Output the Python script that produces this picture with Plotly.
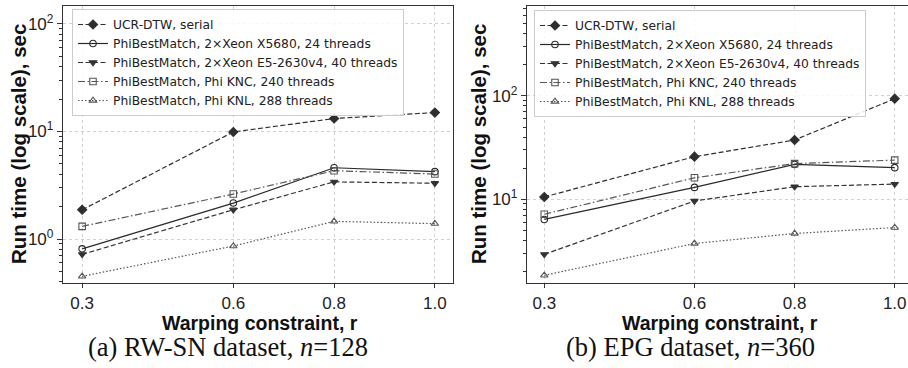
import plotly.graph_objects as go

# ---- data ----
r_values = [0.3, 0.6, 0.8, 1.0]
r_labels = ["0.3", "0.6", "0.8", "1.0"]

series_names = [
    "UCR-DTW, serial",
    "PhiBestMatch, 2×Xeon X5680, 24 threads",
    "PhiBestMatch, 2×Xeon E5-2630v4, 40 threads",
    "PhiBestMatch, Phi KNC, 240 threads",
    "PhiBestMatch, Phi KNL, 288 threads",
]

# (a) RW-SN dataset, n=128
rwsn_ucr = [1.87, 9.9, 13.2, 15.0]
rwsn_x5680 = [0.81, 2.16, 4.6, 4.23]
rwsn_e5 = [0.72, 1.87, 3.4, 3.3]
rwsn_knc = [1.31, 2.62, 4.32, 4.02]
rwsn_knl = [0.45, 0.86, 1.46, 1.39]

# (b) EPG dataset, n=360
epg_ucr = [10.5, 25.8, 37.4, 94.0]
epg_x5680 = [6.36, 13.0, 21.7, 20.2]
epg_e5 = [2.92, 9.6, 13.2, 14.0]
epg_knc = [7.14, 16.1, 22.1, 23.9]
epg_knl = [1.83, 3.72, 4.65, 5.31]

y_ticks_a = [1, 10, 100]
y_ticktext_a = ["10<sup>0</sup>", "10<sup>1</sup>", "10<sup>2</sup>"]
y_ticks_b = [10, 100]
y_ticktext_b = ["10<sup>1</sup>", "10<sup>2</sup>"]

captions = ["(a) RW-SN dataset, <i>n</i>=128", "(b) EPG dataset, <i>n</i>=360"]
x_title = "<b>Warping constraint, r</b>"
y_title = "<b>Run time (log scale), sec</b>"

# ---- styles ----
styles = [
    dict(color="#2e2e2e", dash="5px,2.5px", symbol="diamond", size=7),
    dict(color="#2a2a2a", dash="solid", symbol="circle-open", size=6.5),
    dict(color="#333333", dash="5px,2.5px", symbol="triangle-down", size=6.5),
    dict(color="#555555", dash="7px,2.5px,1.5px,2.5px", symbol="square-open", size=6.5),
    dict(color="#555555", dash="1.5px,2px", symbol="triangle-up-open", size=6.5),
]

fig = go.Figure()

panels = [
    ([rwsn_ucr, rwsn_x5680, rwsn_e5, rwsn_knc, rwsn_knl], "x", "y", "legend"),
    ([epg_ucr, epg_x5680, epg_e5, epg_knc, epg_knl], "x2", "y2", "legend2"),
]
for data, xa, ya, lg in panels:
    for name, vals, st in zip(series_names, data, styles):
        fig.add_trace(go.Scatter(
            x=r_values, y=vals, name=name, mode="lines+markers",
            xaxis=xa, yaxis=ya, legend=lg,
            line=dict(color=st["color"], dash=st["dash"], width=1.2),
            marker=dict(symbol=st["symbol"], size=st["size"], color=st["color"],
                        line=dict(color=st["color"], width=1.1)),
        ))

W, H = 908, 368
mt, mb = 6, 85
ph = H - mt - mb

xtick_font = dict(family="Liberation Sans, Arial, sans-serif", size=17, color="#222")
ytick_font = dict(family="Liberation Sans, Arial, sans-serif", size=17, color="#222")

def minor_vals(lo, hi):
    out = []
    for k in range(lo, hi):
        for d in range(2, 10):
            out.append(d * 10 ** k)
    return out

common_x = dict(
    tickmode="array", tickvals=r_values, ticktext=r_labels,
    showgrid=True, gridcolor="#d0d0d0", griddash="dot", gridwidth=1,
    showline=True, linecolor="#333", linewidth=1.3, mirror=True,
    ticks="outside", ticklen=4, tickcolor="#333", tickfont=xtick_font,
    zeroline=False,
)
common_y = dict(
    type="log", tickmode="array",
    showgrid=True, gridcolor="#d0d0d0", griddash="dot", gridwidth=1,
    showline=True, linecolor="#333", linewidth=1.3,
    ticks="outside", ticklen=5, tickcolor="#333", tickfont=ytick_font,
    zeroline=False,
)

x1d = [63 / W, 453 / W]
x2d = [527 / W, 1.0]

legend_font = dict(family="DejaVu Sans, Liberation Sans, sans-serif", size=12.3, color="#222")

fig.update_layout(
    width=W, height=H,
    margin=dict(l=0, r=0, t=mt, b=mb),
    plot_bgcolor="white", paper_bgcolor="white",
    xaxis=dict(domain=x1d, range=[0.262, 1.036], anchor="y", **common_x),
    yaxis=dict(domain=[0, 1], range=[-0.409, 2.167], anchor="x", mirror=True,
               tickvals=y_ticks_a, ticktext=y_ticktext_a,
               minor=dict(tickvals=minor_vals(-1, 3), ticks="outside", ticklen=3,
                          tickcolor="#333", showgrid=False),
               **common_y),
    xaxis2=dict(domain=x2d, range=[0.2655, 1.0265], anchor="y2", **common_x),
    yaxis2=dict(domain=[0, 1], range=[0.188, 2.871], anchor="x2", mirror=False,
                tickvals=y_ticks_b, ticktext=y_ticktext_b,
                minor=dict(tickvals=minor_vals(0, 3), ticks="outside", ticklen=3,
                           tickcolor="#333", showgrid=False),
                **common_y),
    legend=dict(x=72 / W, y=1 - (9 - mt) / ph, xanchor="left", yanchor="top",
                bgcolor="rgba(255,255,255,0.85)", bordercolor="#cccccc", borderwidth=1,
                font=legend_font, tracegroupgap=0, itemwidth=30),
    legend2=dict(x=534 / W, y=1 - (10 - mt) / ph, xanchor="left", yanchor="top",
                 bgcolor="rgba(255,255,255,0.85)", bordercolor="#cccccc", borderwidth=1,
                 font=legend_font, tracegroupgap=0, itemwidth=30),
    showlegend=True,
)

def py(pix):
    return 1 - (pix - mt) / ph

annos = []
title_font = dict(family="Liberation Sans, Arial, sans-serif", size=19.5, color="#111")
ytitle_font = dict(family="Liberation Sans, Arial, sans-serif", size=20.5, color="#111")
cap_font = dict(family="Liberation Serif, Times New Roman, serif", size=26.5, color="#111")
for i, (cx_x, cx_cap, ycx) in enumerate([(260, 228, 18), (720, 690, 478)]):
    annos.append(dict(text=x_title, x=cx_x / W, y=py(323), xref="paper", yref="paper",
                      showarrow=False, xanchor="center", yanchor="middle", font=title_font))
    annos.append(dict(text=captions[i], x=cx_cap / W, y=py(347),
                      xref="paper", yref="paper", showarrow=False,
                      xanchor="center", yanchor="middle", font=cap_font))
    annos.append(dict(text=y_title, x=ycx / W, y=py(144), xref="paper", yref="paper",
                      showarrow=False, xanchor="center", yanchor="middle", textangle=-90,
                      font=ytitle_font))
fig.update_layout(annotations=annos)

fig.write_html("out.html", config={"displayModeBar": False},
               post_script="document.body.style.margin='0';document.body.style.overflow='hidden';")
